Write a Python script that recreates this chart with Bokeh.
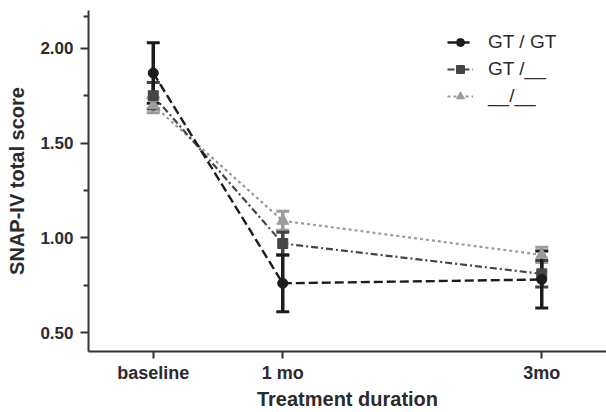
from bokeh.plotting import figure
from bokeh.models import (ColumnDataSource, Whisker, TeeHead, FixedTicker,
                          Legend, LegendItem, Range1d)
from bokeh.embed import file_html
from bokeh.resources import INLINE

# ---- data ----
months = [0, 1, 3]
x_tick_labels = ["baseline", "1 mo", "3mo"]
y_ticks = [0.5, 1.0, 1.5, 2.0]
y_tick_labels = ["0.50", "1.00", "1.50", "2.00"]
y_minor = [0.75, 1.25, 1.75, 2.17]

series_names = ["GT / GT", "GT /__", "__/__"]
gtgt_mean = [1.87, 0.76, 0.78]
gtgt_err = [0.16, 0.15, 0.15]
gt_mean = [1.75, 0.97, 0.81]
gt_err = [0.07, 0.06, 0.07]
none_mean = [1.70, 1.09, 0.91]
none_err = [0.04, 0.05, 0.04]

FONT = "Liberation Sans"
TXT = "#2b2b2b"

p = figure(width=606, height=412, output_backend="svg", toolbar_location=None,
           x_range=Range1d(-0.5, 3.5), y_range=Range1d(0.40, 2.20),
           min_border_left=88, min_border_right=0, min_border_top=10,
           min_border_bottom=60)
p.outline_line_color = None
p.xgrid.visible = False
p.ygrid.visible = False
p.background_fill_color = "white"

# axes
p.xaxis.ticker = FixedTicker(ticks=months)
p.xaxis.major_label_overrides = {m: l for m, l in zip(months, x_tick_labels)}
p.yaxis.ticker = FixedTicker(ticks=y_ticks, minor_ticks=y_minor)
p.yaxis.major_label_overrides = {t: l for t, l in zip(y_ticks, y_tick_labels)}
p.xaxis.minor_tick_line_color = None

for ax in (p.xaxis, p.yaxis):
    ax.axis_line_color = "#333333"
    ax.axis_line_width = 2
    ax.major_tick_line_color = "#333333"
    ax.major_tick_line_width = 2
    ax.major_tick_in = 0
    ax.major_label_text_font = FONT
    ax.major_label_text_font_style = "bold"
    ax.major_label_text_color = TXT
    ax.axis_label_text_font = FONT
    ax.axis_label_text_font_style = "bold"
    ax.axis_label_text_color = TXT
    ax.axis_label_text_font_size = "20px"

p.xaxis.major_tick_out = 7
p.xaxis.major_label_standoff = 4
p.xaxis.major_label_text_font_size = "18px"
p.xaxis.axis_label = "Treatment duration"
p.xaxis.axis_label_standoff = 2

p.yaxis.major_tick_out = 8
p.yaxis.minor_tick_out = 5
p.yaxis.minor_tick_in = 0
p.yaxis.minor_tick_line_color = "#333333"
p.yaxis.minor_tick_line_width = 2
p.yaxis.major_label_standoff = 7
p.yaxis.major_label_text_font_size = "17px"
p.yaxis.axis_label = "SNAP-IV total score"
p.yaxis.axis_label_standoff = 9

styles = [
    # name, mean, err, color, marker, size, dash, width
    (series_names[2], none_mean, none_err, "#9c9c9c", "triangle", 12, "3 3", 2.2),
    (series_names[1], gt_mean, gt_err, "#454545", "square", 10, "7 3 2 3", 2.2),
    (series_names[0], gtgt_mean, gtgt_err, "#1c1c1c", "circle", 10, "9 4", 2.4),
]

items = {}
for name, mean, err, col, mk, sz, dash, lw in styles:
    src = ColumnDataSource(dict(
        x=months, y=mean,
        lo=[m - e for m, e in zip(mean, err)],
        hi=[m + e for m, e in zip(mean, err)]))
    w = Whisker(source=src, base="x", upper="hi", lower="lo",
                line_color=col, line_width=3.5,
                upper_head=TeeHead(size=13, line_color=col, line_width=3),
                lower_head=TeeHead(size=13, line_color=col, line_width=3))
    p.add_layout(w)
    ln = p.line("x", "y", source=src, line_color=col, line_width=lw,
                line_dash=dash)
    sc = p.scatter("x", "y", source=src, marker=mk, size=sz,
                   fill_color=col, line_color=col)
    items[name] = [ln, sc]

legend = Legend(items=[LegendItem(label=n, renderers=items[n]) for n in series_names],
                location=(359, 244), orientation="vertical")
legend.label_text_font = FONT
legend.label_text_font_size = "19px"
legend.label_text_color = TXT
legend.glyph_width = 26
legend.glyph_height = 20
legend.label_height = 20
legend.spacing = 5
legend.label_standoff = 15
legend.padding = 0
legend.margin = 0
legend.border_line_alpha = 0
legend.background_fill_alpha = 0
p.add_layout(legend)

open("out.html", "w").write(file_html(p, INLINE))
